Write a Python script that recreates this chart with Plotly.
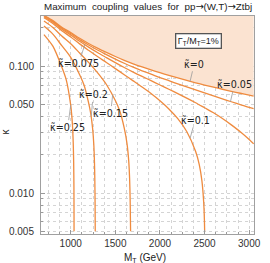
import plotly.graph_objects as go
import math

# ---------------- data ----------------
M_main = [700, 800, 900, 1000, 1100, 1200, 1300, 1400, 1500, 1600, 1700, 1800,
          1900, 2000, 2100, 2200, 2300, 2400, 2500, 2600, 2700, 2800, 2900, 3000, 3050]
k_0 = [0.25, 0.2275, 0.2022, 0.1835, 0.1652, 0.1505, 0.1382, 0.1279, 0.1188, 0.1109,
       0.1041, 0.0983, 0.0932, 0.0885, 0.0843, 0.0805, 0.0770, 0.0738, 0.0708, 0.0681,
       0.0656, 0.0632, 0.0610, 0.0590, 0.0580]
k_005 = [0.2475, 0.2247, 0.1991, 0.1801, 0.1614, 0.1463, 0.1336, 0.1229, 0.1134, 0.1051,
         0.0979, 0.0917, 0.0863, 0.0811, 0.0766, 0.0723, 0.0684, 0.0648, 0.0613, 0.0582,
         0.0552, 0.0523, 0.0497, 0.0472, 0.0462]
k_0075 = [0.2443, 0.2212, 0.1951, 0.1757, 0.1565, 0.1409, 0.1276, 0.1164, 0.1063, 0.0974,
          0.0896, 0.0828, 0.0767, 0.0709, 0.0656, 0.0606, 0.0559, 0.0514, 0.0469, 0.0428,
          0.0386, 0.0344, 0.0304, 0.0264, 0.0244]

M_01 = [700, 800, 900, 1000, 1100, 1200, 1300, 1400, 1500, 1600, 1700, 1800, 1900,
        2000, 2100, 2200, 2300, 2400, 2440, 2470, 2490, 2498, 2501]
k_01 = [0.2398, 0.2162, 0.1894, 0.1693, 0.1493, 0.1329, 0.1187, 0.1066, 0.0954, 0.0854,
        0.0764, 0.0683, 0.0607, 0.0532, 0.0459, 0.0385, 0.0305, 0.0212, 0.0168, 0.0125,
        0.0085, 0.0062, 0.005]

M_015 = [700, 800, 900, 1000, 1100, 1200, 1300, 1400, 1500, 1550, 1600, 1630, 1650,
         1660, 1666, 1669, 1671]
k_015 = [0.2264, 0.2013, 0.1721, 0.1497, 0.1266, 0.1068, 0.0886, 0.0715, 0.0535, 0.0442,
         0.0324, 0.0247, 0.0179, 0.0130, 0.0089, 0.0063, 0.005]

M_02 = [700, 800, 900, 1000, 1100, 1150, 1200, 1225, 1245, 1258, 1266, 1270, 1273, 1274, 1275]
k_02 = [0.2062, 0.1782, 0.1445, 0.1169, 0.0854, 0.0705, 0.0515, 0.0420, 0.0324, 0.0245,
        0.0176, 0.0130, 0.0084, 0.0063, 0.005]

M_025 = [700, 800, 900, 950, 1000, 1010, 1020, 1028, 1033, 1036, 1037, 1037.5]
k_025 = [0.1768, 0.1432, 0.0981, 0.0777, 0.0492, 0.0422, 0.0339, 0.0251, 0.0176, 0.0110,
         0.0071, 0.005]

curve_names = ["κ̃=0", "κ̃=0.05", "κ̃=0.075", "κ̃=0.1", "κ̃=0.15", "κ̃=0.2", "κ̃=0.25"]
curve_x = [M_main, M_main, M_main, M_01, M_015, M_02, M_025]
curve_y = [k_0, k_005, k_0075, k_01, k_015, k_02, k_025]

# label anchor points on curves (M, kappa) and text offsets in px
label_M = [2338, 2790, 1158, 2338, 1470, 1230, 1000]
label_k = [0.0758, 0.0524, 0.1475, 0.027, 0.059, 0.0405, 0.0492]
label_dx = [4, 4, -6, 5, -2, 2, -3]
label_dy = [-17, -17, 19, -18, 18, -21, 22]

x_ticks = [1000, 1500, 2000, 2500, 3000]
y_ticks = [0.005, 0.01, 0.05, 0.1]
y_ticktext = ["0.005", "0.010", "0.050", "0.100"]
shade_top = 0.5

# ---------------- figure ----------------
LINE = "#EF8B3F"
SHADE = "#FBE3D1"
FONT = "Liberation Sans, DejaVu Sans, Arial, sans-serif"
LFONT = "DejaVu Sans, sans-serif"
ARROW = '<span style="font-family:DejaVu Sans">→</span>'

fig = go.Figure()

# excluded region above kappa-tilde = 0 curve
fig.add_trace(go.Scatter(
    x=M_main + M_main[::-1],
    y=k_0 + [shade_top] * len(M_main),
    fill="toself", fillcolor=SHADE, mode="none",
    hoverinfo="skip", showlegend=False))

for name, xs, ys in zip(curve_names, curve_x, curve_y):
    fig.add_trace(go.Scatter(
        x=xs, y=ys, mode="lines", name=name,
        line=dict(color=LINE, width=1.3, shape="spline", smoothing=0.8),
        hoverinfo="skip", showlegend=False))

annotations = []
for name, mx, ky, dx, dy in zip(curve_names, label_M, label_k, label_dx, label_dy):
    annotations.append(dict(
        x=mx, y=math.log10(ky), xref="x", yref="y", text=name,
        showarrow=True, arrowhead=0, arrowwidth=0.8, arrowcolor="#9a9a9a",
        ax=dx, ay=dy, font=dict(size=9.6, color="#222", family=LFONT)))

annotations.append(dict(
    x=0.848, y=0.924, xref="paper", yref="paper",
    text="Γ<sub>T</sub>/M<sub>T</sub>=1%", showarrow=False,
    font=dict(size=9, color="#222", family=FONT),
    bgcolor="white", bordercolor="#555", borderwidth=1.3, borderpad=1.5))

annotations.append(dict(
    x=0.5, y=1.045, xref="paper", yref="paper",
    text="Maximum  coupling  values  for  pp" + ARROW + "(W,T)" + ARROW + "Ztbj",
    showarrow=False,
    font=dict(size=9.8, color="#222", family=FONT), yanchor="middle"))

annotations.append(dict(
    x=0.49, y=-0.11, xref="paper", yref="paper",
    text="M<sub>T</sub> (GeV)", showarrow=False,
    font=dict(size=10, color="#222", family=FONT), yanchor="middle"))

annotations.append(dict(
    x=-0.165, y=0.47, xref="paper", yref="paper",
    text="κ", showarrow=False, textangle=-90,
    font=dict(size=10, color="#222", family=FONT), xanchor="center", yanchor="middle"))

grid = dict(color="#d4d4d4", dash="dot")

fig.update_layout(
    width=270, height=263,
    margin=dict(l=41, r=9, t=16, b=29),
    paper_bgcolor="white", plot_bgcolor="white",
    annotations=annotations,
    font=dict(family=FONT, size=10, color="#333"),
    xaxis=dict(
        range=[667, 3054], tickvals=x_ticks, ticktext=[str(v) for v in x_ticks],
        showgrid=True, gridcolor=grid["color"], griddash=grid["dash"], gridwidth=1,
        minor=dict(dtick=125, tick0=0, showgrid=True, gridcolor=grid["color"],
                   griddash=grid["dash"], ticks="inside", ticklen=2, tickcolor="#999"),
        showline=True, mirror=True, linecolor="#a0a0a0", linewidth=1,
        ticks="inside", ticklen=4, tickcolor="#999",
        tickfont=dict(size=10, color="#333"), zeroline=False),
    yaxis=dict(
        type="log", range=[-2.3228, -0.6063],
        tickvals=y_ticks, ticktext=y_ticktext,
        showgrid=True, gridcolor=grid["color"], griddash=grid["dash"], gridwidth=1,
        minor=dict(dtick="D1", showgrid=True, gridcolor=grid["color"],
                   griddash=grid["dash"], ticks="inside", ticklen=2, tickcolor="#999"),
        showline=True, mirror=True, linecolor="#a0a0a0", linewidth=1,
        ticks="inside", ticklen=4, tickcolor="#999", ticklabelstandoff=4,
        tickfont=dict(size=10, color="#333"), zeroline=False),
)

fig.write_html(
    "out.html",
    config={"displayModeBar": False},
    post_script="document.body.style.margin='0';document.body.style.padding='0';"
                "document.documentElement.style.overflow='hidden';",
)
